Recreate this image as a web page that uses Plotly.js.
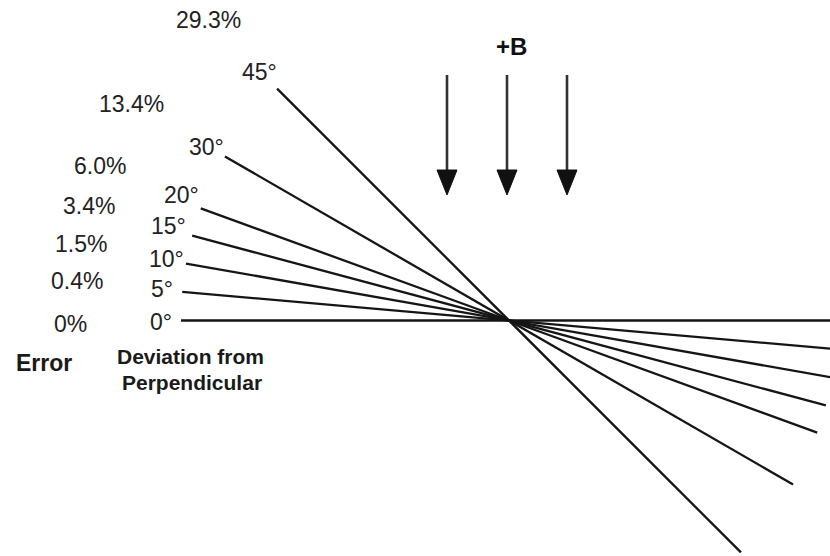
<!DOCTYPE html>
<html>
<head>
<meta charset="utf-8">
<script src="https://cdn.plot.ly/plotly-3.0.1.min.js"></script>
<style>html,body{margin:0;padding:0;background:#fff;}#chart{width:830px;height:556px;}</style>
</head>
<body>
<div id="chart"></div>
<script>
// ---- data ----
const angles = [0, 5, 10, 15, 20, 30, 45];                 // deviation from perpendicular (deg)
const angleLabels = ['0°', '5°', '10°', '15°', '20°', '30°', '45°'];
const errors = [0, 0.4, 1.5, 3.4, 6.0, 13.4, 29.3];         // error (%)
const errorLabels = ['0%', '0.4%', '1.5%', '3.4%', '6.0%', '13.4%', '29.3%'];
const fieldLabel = '+B';
const fieldArrowCount = 3;

// ---- layout / geometry (pixel-space, centre of the fan at origin) ----
const halfLen = 328;
const arrowX = [-62, -2, 58];
const arrowTop = 245.5, arrowTip = 125.5, headH = 25, headW = 20;
// label positions in page pixels
const anglePos = [[161,322],[162,289],[166,259],[168,226],[181,195],[206,147],[259,72]];
const errorPos = [[70,324],[77,281],[81,244],[89,206],[100,166],[131,104],[208,20]];
const cx = 509, cy = 320.5;
const X = p => p - cx, Y = p => cy - p;

const traces = [];
angles.forEach((a, i) => {
  const r = a * Math.PI / 180;
  traces.push({
    x: [-halfLen * Math.cos(r), halfLen * Math.cos(r)],
    y: [halfLen * Math.sin(r), -halfLen * Math.sin(r)],
    mode: 'lines', line: {color: '#151515', width: 2.3},
    hoverinfo: 'skip', showlegend: false
  });
});
arrowX.slice(0, fieldArrowCount).forEach(x0 => {
  traces.push({
    x: [x0, x0], y: [arrowTop, arrowTip + headH - 2],
    mode: 'lines', line: {color: '#333', width: 2.6},
    hoverinfo: 'skip', showlegend: false
  });
  traces.push({
    x: [x0 - headW / 2, x0 + headW / 2, x0, x0 - headW / 2],
    y: [arrowTip + headH, arrowTip + headH, arrowTip, arrowTip + headH],
    mode: 'lines', fill: 'toself', fillcolor: '#111', line: {color: '#111', width: 1},
    hoverinfo: 'skip', showlegend: false
  });
});

const fam = 'Liberation Sans, Arial, sans-serif';
const font = {family: fam, size: 23, color: '#222'};
const annotations = [];
angleLabels.forEach((t, i) => annotations.push({
  x: X(anglePos[i][0]), y: Y(anglePos[i][1]), text: t, showarrow: false, font: font,
  xanchor: 'center', yanchor: 'middle'
}));
errorLabels.forEach((t, i) => annotations.push({
  x: X(errorPos[i][0]), y: Y(errorPos[i][1]), text: t, showarrow: false, font: font,
  xanchor: 'center', yanchor: 'middle'
}));
annotations.push({x: X(44), y: Y(363), text: '<b>Error</b>', showarrow: false,
  font: {family: fam, size: 23, color: '#1a1a1a'}});
annotations.push({x: X(190), y: Y(356), text: '<b>Deviation from</b>', showarrow: false,
  font: {family: fam, size: 21, color: '#1a1a1a'}});
annotations.push({x: X(192), y: Y(382), text: '<b>Perpendicular</b>', showarrow: false,
  font: {family: fam, size: 21, color: '#1a1a1a'}});
annotations.push({x: X(511), y: Y(46), text: '<b>' + fieldLabel + '</b>', showarrow: false,
  font: {family: fam, size: 24, color: '#111'}});

const layout = {
  width: 830, height: 556,
  margin: {l: 0, r: 0, t: 0, b: 0},
  paper_bgcolor: '#fff', plot_bgcolor: '#fff',
  xaxis: {range: [-cx, 830 - cx], visible: false, fixedrange: true},
  yaxis: {range: [cy - 556, cy], visible: false, fixedrange: true},
  annotations: annotations,
  showlegend: false
};
Plotly.newPlot('chart', traces, layout, {staticPlot: true});
</script>
</body>
</html>
